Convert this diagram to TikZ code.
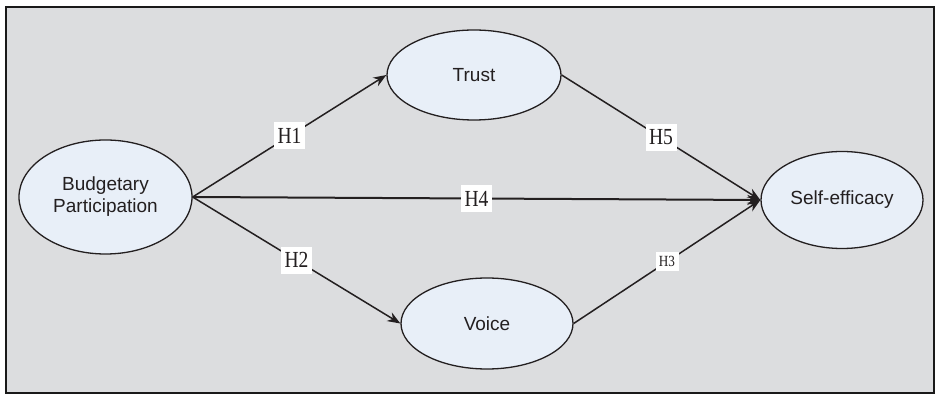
\documentclass[tikz,border=0pt]{standalone}
\usepackage{fontspec}
\setmainfont{Liberation Sans}
\newfontfamily\hfont[FakeStretch=0.85]{Liberation Serif}
\usetikzlibrary{shapes.geometric,arrows.meta}
\definecolor{bggray}{RGB}{220,221,223}
\definecolor{ellfill}{RGB}{232,239,248}
\definecolor{inkc}{RGB}{35,31,32}
\tikzset{
  construct/.style={ellipse, draw=inkc, line width=1.3pt, fill=ellfill, inner sep=0pt,
    text=inkc, align=center, font=\fontsize{19}{22}\selectfont},
  link/.style={draw=inkc, line width=1.5pt, -{Stealth[length=13pt,width=10pt]}},
  hlabel/.style={fill=white, text=inkc, inner sep=0pt, minimum width=31pt, minimum height=27pt,
    font=\hfont\fontsize{23}{23}\selectfont},
  hsmall/.style={fill=white, text=inkc, inner sep=0pt, minimum width=23pt, minimum height=19pt,
    font=\hfont\fontsize{15.5}{15.5}\selectfont}
}
\begin{document}
\begin{tikzpicture}[x=1pt,y=-1pt]
\useasboundingbox (0,0) rectangle (935,395);
\draw[fill=bggray, draw=black!90, line width=2pt] (5.5,7.5) rectangle (933.5,393.5);
\node[construct, minimum width=173pt, minimum height=114pt] (bp) at (105.5,197) {Budgetary\\Participation};
\node[construct, minimum width=174pt, minimum height=90pt] (tr) at (474,75) {Trust};
\node[construct, minimum width=172pt, minimum height=91pt] (vo) at (487,323.5) {Voice};
\node[construct, minimum width=162pt, minimum height=97pt] (se) at (842,200) {Self-efficacy};
\draw[link] (bp.east) -- node[hlabel] {H1} (tr.west);
\draw[link] (bp.east) -- node[hlabel] {H2} (vo.west);
\draw[link, line width=2pt] (bp.east) -- node[hlabel] {H4} (se.west);
\draw[link] (tr.east) -- node[hlabel] {H5} (se.west);
\draw[link] (vo.east) -- node[hsmall] {H3} (se.west);
\end{tikzpicture}
\end{document}
